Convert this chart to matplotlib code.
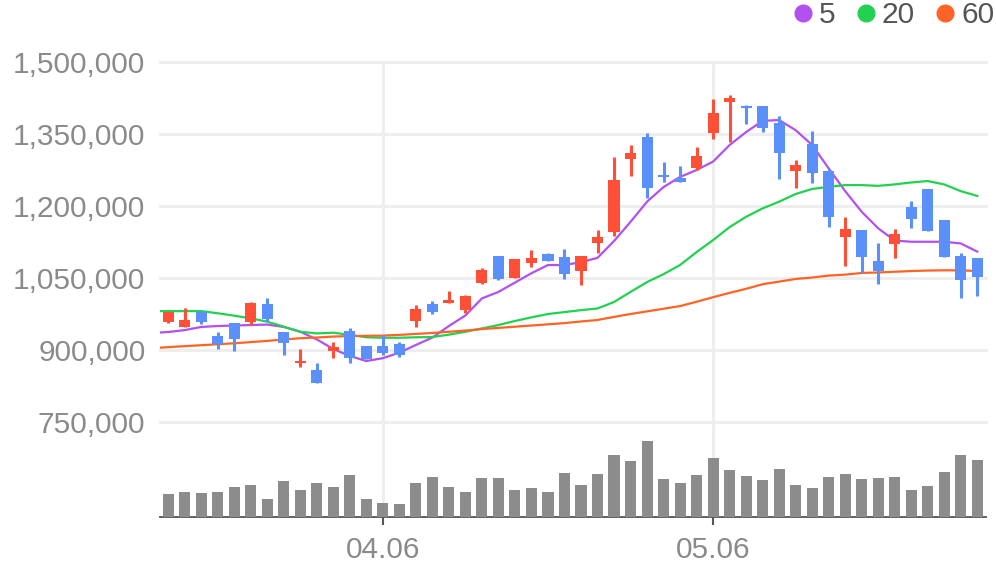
import matplotlib
matplotlib.use("Agg")
import matplotlib.pyplot as plt
from matplotlib.lines import Line2D
import numpy as np

plt.rcParams['font.family'] = ['Liberation Sans', 'DejaVu Sans']

# daily candles, prices in thousand won
opens = [959, 948.5, 978.5, 929, 955.5, 959, 996, 938, 872, 858,
         898.5, 939.5, 908, 908, 912.5, 961, 996, 997, 983, 1040,
         1096, 1050.5, 1080.5, 1100, 1094.5, 1065, 1122, 1146.5, 1298.5, 1344.5,
         1264.5, 1258.5, 1278.5, 1352.5, 1417, 1409, 1409, 1373.5, 1273.5, 1329,
         1273, 1136, 1150, 1085.5, 1120, 1198.5, 1235.5, 1171, 1096, 1092.5]
highs = [980, 988, 978.5, 937.5, 957, 1000, 1008.5, 938, 902, 873,
         916.5, 946, 908, 930.5, 916.5, 994, 1002, 1023, 1014.5, 1071,
         1096, 1089, 1108.5, 1103, 1110.5, 1096, 1150, 1302.5, 1327, 1352.5,
         1292, 1283.5, 1323.5, 1423, 1431.5, 1410, 1409, 1387.5, 1296, 1356.5,
         1277, 1177.5, 1150, 1123.5, 1152, 1210.5, 1235.5, 1171, 1101.5, 1092.5]
lows = [957, 948, 955, 903, 898.5, 952, 961, 889.5, 865, 832,
        884, 873.5, 881, 889.5, 886, 948.5, 975.5, 997, 978, 1037.5,
        1046, 1050.5, 1073.5, 1085, 1048, 1035.5, 1101.5, 1137.5, 1262.5, 1217,
        1249, 1250.5, 1275, 1340, 1334, 1370, 1353.5, 1255.5, 1238, 1247.5,
        1155.5, 1075.5, 1061, 1037.5, 1092.5, 1155, 1148.5, 1094.5, 1008.5, 1012.5]
closes = [980, 962.5, 959, 912.5, 923, 998.5, 964.5, 915, 878, 832,
          905.5, 882.5, 881, 894.5, 889.5, 985.5, 980, 1004, 1012.5, 1066.5,
          1047.5, 1089, 1091, 1086, 1058, 1096, 1134.5, 1254, 1311, 1238,
          1260, 1250.5, 1304, 1394.5, 1424.5, 1403.5, 1362, 1310, 1285.5, 1268,
          1177.5, 1152, 1094.5, 1064.5, 1141.5, 1173, 1148.5, 1094.5, 1046, 1052]
volumes = [23, 25, 24, 25, 30, 32, 18, 36, 27, 34,
           30, 42, 18, 14, 13, 34, 40, 30, 25, 39,
           39, 27, 29, 25, 44, 32, 43, 62, 56, 76,
           38, 34, 42, 59, 47, 41, 37, 48, 32, 29,
           40, 43, 38, 39, 40, 27, 31, 45, 62, 57]

# moving averages, first value belongs to the day before the first candle
ma5 = [935.5, 937.5, 941.5, 948, 950, 951, 952, 953, 948, 938, 922,
       902, 887.5, 877, 883, 894.5, 910.5, 926, 950, 972, 1007.5,
       1021, 1040.5, 1060, 1077, 1077, 1083, 1092, 1127, 1167, 1209,
       1239.5, 1260.5, 1275, 1292.5, 1327, 1354, 1377.5, 1379, 1358, 1327,
       1278.5, 1231, 1188, 1153.5, 1128, 1125.5, 1125.5, 1125.5, 1122, 1105]
ma20 = [981, 981, 981, 981, 976.5, 971.5, 966, 959, 948.5, 938, 934.5,
        936, 931.5, 926.5, 925.5, 925.5, 926.5, 927, 932, 938, 945,
        952, 960.5, 968, 975, 979, 983, 986.5, 1000, 1021, 1041.5,
        1058, 1077, 1104, 1129, 1156, 1177.5, 1195, 1209, 1225, 1235.5,
        1240, 1243.5, 1243.5, 1242, 1245, 1249, 1252, 1245, 1231, 1221]
ma60 = [903.5, 906, 908, 910, 912, 914, 916.5, 919, 922, 924.5, 926,
        928, 929, 929.5, 930, 931.5, 933.5, 935.5, 938, 940.5, 943.5,
        946, 948.5, 951, 953.5, 956, 959.5, 962.5, 969, 975, 980.5,
        986, 991.5, 1000.5, 1010, 1019, 1027.5, 1037, 1042.5, 1048, 1051,
        1055, 1057, 1060.5, 1061.5, 1063, 1064.5, 1065.5, 1066, 1066, 1064.5]

tick_idx = [13, 33]
tick_labels = ["04.06", "05.06"]
price_ticks = [750000, 900000, 1050000, 1200000, 1350000, 1500000]

UP = "#FF4F36"
DOWN = "#5B8FF9"
MA_COLORS = {"5": "#B250F0", "20": "#22D152", "60": "#FF6426"}

o = np.array(opens) * 1000
h = np.array(highs) * 1000
l = np.array(lows) * 1000
c = np.array(closes) * 1000
x = np.arange(len(o))
x_ma = np.arange(-1, len(o))
colors = np.where(c >= o, UP, DOWN)

fig = plt.figure(figsize=(9.96, 5.67), dpi=100)
ax = fig.add_axes([160 / 996, 50 / 567, 825.5 / 996, 455 / 567])
axv = ax.twinx()

ax.set_xlim(-0.5, 49.5)
ax.set_ylim(1500000 - 455 * 150000 / 72, 1500000)
axv.set_ylim(0, 455)

# moving averages
for name, vals in zip(["5", "20", "60"], [ma5, ma20, ma60]):
    ax.plot(x_ma, np.array(vals) * 1000, color=MA_COLORS[name], lw=1.6, zorder=3)

# candles
ax.vlines(x, l, h, colors=colors, lw=2.2, zorder=4)
body = np.maximum(np.abs(c - o), 1500)
ax.bar(x, body, bottom=np.minimum(o, c), width=0.67, color=colors, zorder=5)

# volume
axv.bar(x, volumes, width=0.67, color="#8C8C8C", zorder=2)
axv.set_yticks([])
for s in axv.spines.values():
    s.set_visible(False)

ax.set_yticks(price_ticks)
ax.set_yticklabels([f"{v:,}" for v in price_ticks])
ax.set_xticks(tick_idx)
ax.set_xticklabels(tick_labels)
ax.grid(True, color="#EEEEEE", lw=2.2)
ax.set_axisbelow(True)
for gl in ax.get_ygridlines():
    gl.set_clip_on(False)

for side in ["top", "left", "right"]:
    ax.spines[side].set_visible(False)
ax.spines["bottom"].set_color("#555555")
ax.spines["bottom"].set_linewidth(1.3)
ax.spines["bottom"].set_zorder(6)
ax.tick_params(axis="y", length=0, pad=10.5, labelsize=21.5, labelcolor="#8A8A8A")
ax.tick_params(axis="x", length=5.5, width=1.5, color="#555555", pad=8,
               labelsize=21.5, labelcolor="#8A8A8A")

handles = [Line2D([], [], marker="o", ls="", color=col, markersize=12)
           for col in MA_COLORS.values()]
fig.legend(handles, list(MA_COLORS.keys()), loc="upper right", bbox_to_anchor=(1.0, 1.0),
           ncol=3, frameon=False, fontsize=21.5, labelcolor="#555555",
           handlelength=0.6, handletextpad=0.25, columnspacing=0.7,
           borderpad=0.05, borderaxespad=0)

fig.savefig("out.png", dpi=100)
